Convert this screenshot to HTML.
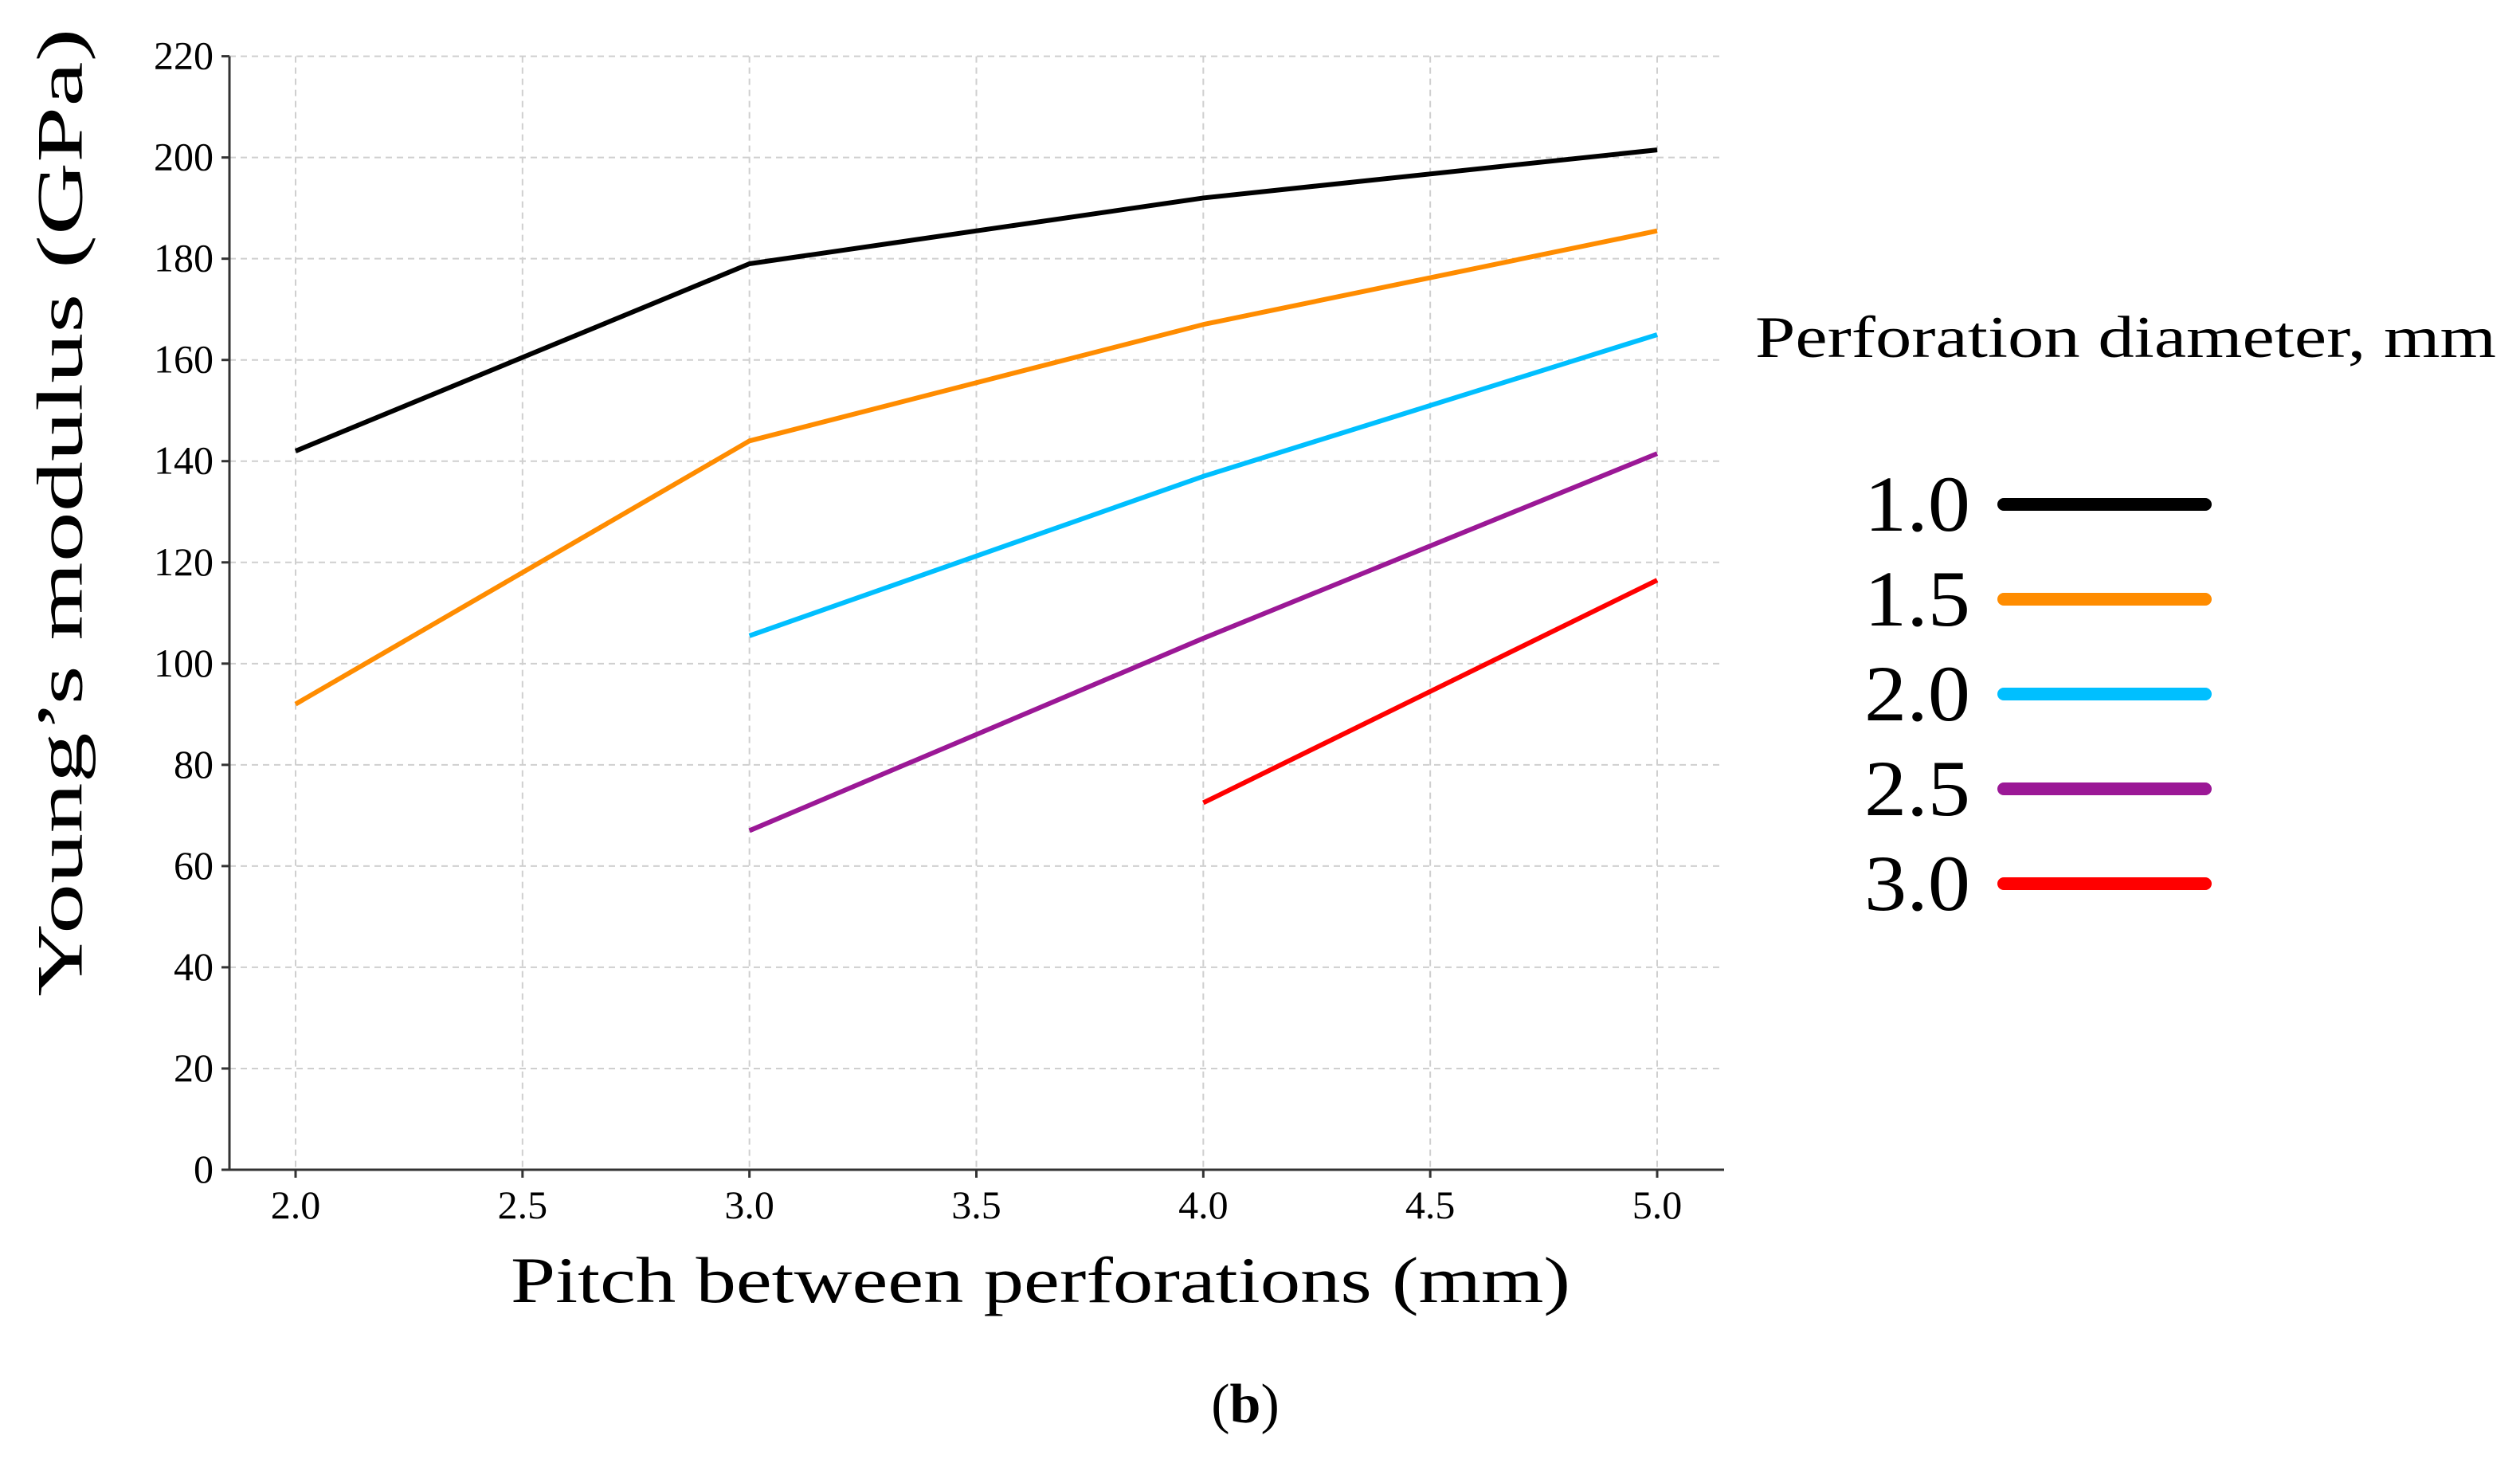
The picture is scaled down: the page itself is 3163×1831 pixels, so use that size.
<!DOCTYPE html>
<html><head><meta charset="utf-8"><style>
html,body{margin:0;padding:0;background:#fff;}
svg{display:block;font-family:"Liberation Serif",serif;}
</style></head><body>
<svg id="chart" width="3163" height="1831" viewBox="0 0 3163 1831">
<g id="grid"></g>
<g id="axes"></g>
<g id="series"></g>
<text x="75" y="643" font-size="82" text-anchor="middle" textLength="1215" lengthAdjust="spacingAndGlyphs" transform="rotate(-90 75 643)" dominant-baseline="central">Young’s modulus (GPa)</text>
<text x="641" y="1634" font-size="82" textLength="1330" lengthAdjust="spacingAndGlyphs">Pitch between perforations (mm)</text>
<text x="2203" y="448" font-size="74" textLength="930" lengthAdjust="spacingAndGlyphs">Perforation diameter, mm</text>
<g id="legend"></g>
<text x="1563" y="1785" font-size="70" text-anchor="middle">(<tspan font-weight="bold">b</tspan>)</text>
</svg>
<script>
const xTicks=[2.0,2.5,3.0,3.5,4.0,4.5,5.0];
const yTicks=[0,20,40,60,80,100,120,140,160,180,200,220];
const seriesNames=["1.0","1.5","2.0","2.5","3.0"];
const seriesColors=["#000000","#ff8c00","#00bfff","#9b1896","#ff0000"];
const xs10=[2,3,4,5], ys10=[142,179,192,201.5];
const xs15=[2,3,4,5], ys15=[92,144,167,185.5];
const xs20=[3,4,5], ys20=[105.5,137,165];
const xs25=[3,4,5], ys25=[67,105,141.5];
const xs30=[4,5], ys30=[72.5,116.5];
const seriesX=[xs10,xs15,xs20,xs25,xs30];
const seriesY=[ys10,ys15,ys20,ys25,ys30];

const NS="http://www.w3.org/2000/svg";
const X0=371,X1=2080,Y0=1468,Y1=70.6,AXL=288,AXR=2164;
function xs(v){return X0+(v-2)*(X1-X0)/3;}
function ys(v){return Y0-v*(Y0-Y1)/220;}
function mk(tag,attrs,parent){const e=document.createElementNS(NS,tag);for(const k in attrs)e.setAttribute(k,attrs[k]);parent.appendChild(e);return e;}
const grid=document.getElementById('grid'),axes=document.getElementById('axes'),ser=document.getElementById('series'),leg=document.getElementById('legend');
xTicks.forEach(t=>{
 const l=mk('line',{x1:xs(t),x2:xs(t),y1:Y1,y2:Y0,stroke:'#cfcfcf','stroke-width':2,'stroke-dasharray':'8 6'},grid);
 
 
 const tk=mk('line',{x1:xs(t),x2:xs(t),y1:Y0,y2:Y0+10,stroke:'#333','stroke-width':3},axes);
 
 
 const tx=mk('text',{x:xs(t),y:1529,'font-size':50,'text-anchor':'middle'},axes);
 tx.textContent=t.toFixed(1);
 
 
});
yTicks.forEach(t=>{
 if(t>0){const l=mk('line',{x1:AXL,x2:AXR,y1:ys(t),y2:ys(t),stroke:'#cfcfcf','stroke-width':2,'stroke-dasharray':'8 6'},grid);
 
 }
 const tk=mk('line',{x1:AXL-10,x2:AXL,y1:ys(t),y2:ys(t),stroke:'#333','stroke-width':3},axes);
 
 
 const tx=mk('text',{x:268,y:ys(t)+16,'font-size':50,'text-anchor':'end'},axes);
 tx.textContent=t;
 
 
});
const ax1=mk('line',{x1:AXL,x2:AXL,y1:Y1,y2:Y0,stroke:'#333','stroke-width':3},axes);


const ax2=mk('line',{x1:AXL,x2:AXR,y1:Y0,y2:Y0,stroke:'#333','stroke-width':3},axes);


seriesNames.forEach((n,i)=>{
 const pts=seriesX[i].map((x,j)=>xs(x)+','+ys(seriesY[i][j])).join(' ');
 const p=mk('polyline',{points:pts,fill:'none',stroke:seriesColors[i],'stroke-width':6,'stroke-linejoin':'round'},ser);
 
 
 const ly=633+i*119;
 const t=mk('text',{x:2340,y:ly+33,'font-size':100,textLength:133,lengthAdjust:'spacingAndGlyphs'},leg);
 t.textContent=n;
 
 
 const l=mk('line',{x1:2515,x2:2768,y1:ly,y2:ly,stroke:seriesColors[i],'stroke-width':16,'stroke-linecap':'round'},leg);
 
 
});
</script>
</body></html>
